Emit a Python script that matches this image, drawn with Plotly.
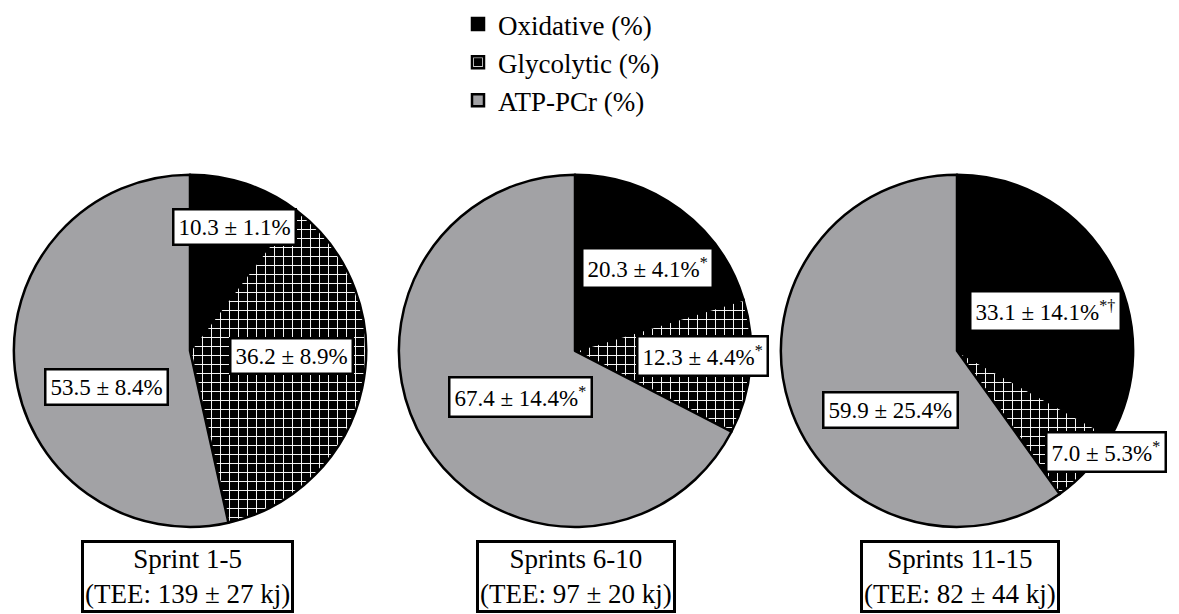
import plotly.graph_objects as go

# ---- data ----
labels = ["Oxidative (%)", "Glycolytic (%)", "ATP-PCr (%)"]
groups = ["Sprint 1-5", "Sprints 6-10", "Sprints 11-15"]
tee_mean = [139, 97, 82]
tee_sd = [27, 20, 44]
oxidative = [10.3, 20.3, 33.1]
oxidative_sd = [1.1, 4.1, 14.1]
oxidative_sig = ["", "*", "*†"]
glycolytic = [36.2, 12.3, 7.0]
glycolytic_sd = [8.9, 4.4, 5.3]
glycolytic_sig = ["", "*", "*"]
atp_pcr = [53.5, 67.4, 59.9]
atp_pcr_sd = [8.4, 14.4, 25.4]
atp_pcr_sig = ["", "*", ""]

# ---- layout helpers (pixel geometry) ----
W, H = 1179, 614
FONT = "Liberation Serif"
pie_cx = [190, 575, 957]
pie_cy = 349.5
pie_r = 177
# label centres in pixels per pie: oxidative, glycolytic, atp
label_px = [
    [(234, 225), (291, 355), (106, 386)],
    [(647, 266), (702, 355), (520, 396)],
    [(1045, 310), (1106, 451), (890, 409)],
]
box_px = [(187, 576), (576, 576), (960, 576)]

def px(x, y):
    return x / W, 1 - y / H

fig = go.Figure()
for i in range(3):
    x0, _ = px(pie_cx[i] - pie_r, 0)
    x1, _ = px(pie_cx[i] + pie_r, 0)
    _, y0 = px(0, pie_cy + pie_r)
    _, y1 = px(0, pie_cy - pie_r)
    fig.add_trace(go.Pie(
        labels=labels,
        values=[oxidative[i], glycolytic[i], atp_pcr[i]],
        sort=False, direction="clockwise", rotation=0,
        textinfo="none", hoverinfo="label+value",
        domain=dict(x=[x0, x1], y=[y0, y1]),
        marker=dict(
            colors=["#000000", "#000000", "#a2a2a5"],
            line=dict(color="#000000", width=2.5),
            pattern=dict(shape=["", "+", ""], fgcolor="#ffffff", bgcolor="#000000",
                         size=9, solidity=0.2, fillmode="replace"),
        ),
        showlegend=(i == 0),
    ))

annotations = []
for i in range(3):
    vals = [(oxidative[i], oxidative_sd[i], oxidative_sig[i]),
            (glycolytic[i], glycolytic_sd[i], glycolytic_sig[i]),
            (atp_pcr[i], atp_pcr_sd[i], atp_pcr_sig[i])]
    for (v, sd, sig), (lx, ly) in zip(vals, label_px[i]):
        t = f"{v:.1f} ± {sd:.1f}%"
        if sig:
            t += f"<sup>{sig}</sup>"
        ax, ay = px(lx, ly)
        annotations.append(dict(
            x=ax, y=ay, xref="paper", yref="paper", text=t, showarrow=False,
            xanchor="center", yanchor="middle",
            font=dict(family=FONT, size=23, color="black"),
            bgcolor="white", bordercolor="black", borderwidth=2.5, borderpad=4,
        ))
    bx, by = px(*box_px[i])
    annotations.append(dict(
        x=bx, y=by, xref="paper", yref="paper",
        text=f"{groups[i]}<br>(TEE: {tee_mean[i]} ± {tee_sd[i]} kj)",
        showarrow=False, xanchor="center", yanchor="middle", align="center",
        font=dict(family=FONT, size=27, color="black"),
        bgcolor="white", bordercolor="black", borderwidth=3, borderpad=1,
    ))

fig.update_layout(
    width=W, height=H,
    margin=dict(l=0, r=0, t=0, b=0),
    paper_bgcolor="white", plot_bgcolor="white",
    font=dict(family=FONT, color="black"),
    annotations=annotations,
    legend=dict(x=458 / W, xanchor="left", y=1.005, yanchor="top",
                font=dict(family=FONT, size=27, color="black"),
                bgcolor="rgba(0,0,0,0)", tracegroupgap=0),
)

fig.write_html("out.html", config={"displayModeBar": False},
               post_script="document.body.style.margin='0';document.body.style.overflow='hidden';")
